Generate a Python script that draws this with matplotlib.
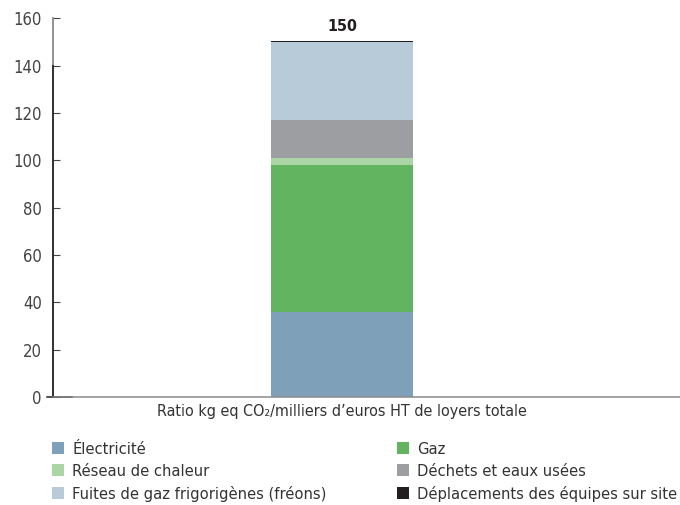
import matplotlib.pyplot as plt
from matplotlib.patches import Patch

# data
categories = ["Électricité", "Gaz", "Réseau de chaleur", "Déchets et eaux usées",
              "Fuites de gaz frigorigènes (fréons)", "Déplacements des équipes sur site"]
values = [36, 62, 3, 16, 33, 0.5]
colors = ["#7ea1b9", "#62b460", "#acd5a6", "#9d9ea2", "#b7cbd8", "#231f20"]
bar_label = "Ratio kg eq CO₂/milliers d’euros HT de loyers totale"
total_label = "150"
yticks = [0, 20, 40, 60, 80, 100, 120, 140, 160]

plt.rcParams['font.family'] = ['DejaVu Sans']
plt.rcParams['font.stretch'] = 'condensed'

fig = plt.figure(figsize=(6.8, 5.05), dpi=100)
ax = fig.add_axes([0.078, 0.214, 0.922, 0.75])

bottom = 0
for v, c in zip(values, colors):
    ax.bar(0, v, bottom=bottom, width=0.49, color=c, linewidth=0)
    bottom += v

ax.text(0, bottom + 3, total_label, ha='center', va='bottom', fontsize=11.5, fontweight='bold', color='#231f20')

ax.set_xlim(-1.0, 1.17)
ax.set_ylim(0, 160)
ax.set_yticks(yticks)
ax.set_xticks([0])
ax.set_xticklabels([bar_label], fontsize=11.5, color='#333333')
ax.tick_params(axis='y', labelsize=12, colors='#444444', length=5, direction='in', pad=8)
ax.tick_params(axis='x', length=0, pad=5)
for t in ax.yaxis.get_ticklines():
    t.set_color('#231f20')

ax.spines['top'].set_visible(False)
ax.spines['right'].set_visible(False)
ax.spines['left'].set_color('#231f20')
ax.spines['left'].set_linewidth(1.3)
ax.spines['left'].set_bounds(0, 140)
ax.spines['bottom'].set_color('#8a8a8a')
ax.spines['bottom'].set_linewidth(1.1)
# lighter top part of the y axis, and the small stub left of zero
ax.plot([0, 0], [140, 160], transform=ax.get_yaxis_transform(), color='#8a8a8a',
        lw=1.3, clip_on=False)
ax.plot([-0.01, 0.03], [0, 0], transform=ax.transAxes, color='#231f20', lw=1.1, clip_on=False)

# legend in two columns, each placed on its own
col_x = [52 / 680, 397 / 680]
for k, idx in enumerate([[0, 2, 4], [1, 3, 5]]):
    handles = [Patch(facecolor=colors[i], edgecolor='none') for i in idx]
    labels = [categories[i] for i in idx]
    fig.legend(handles, labels, loc='upper left', bbox_to_anchor=(col_x[k], 1 - 442 / 505),
               frameon=False, fontsize=11.8, handlelength=0.75, handleheight=0.75,
               handletextpad=0.5, labelspacing=0.42, borderpad=0, borderaxespad=0,
               labelcolor='#333333')

fig.savefig("out.png", dpi=100)
